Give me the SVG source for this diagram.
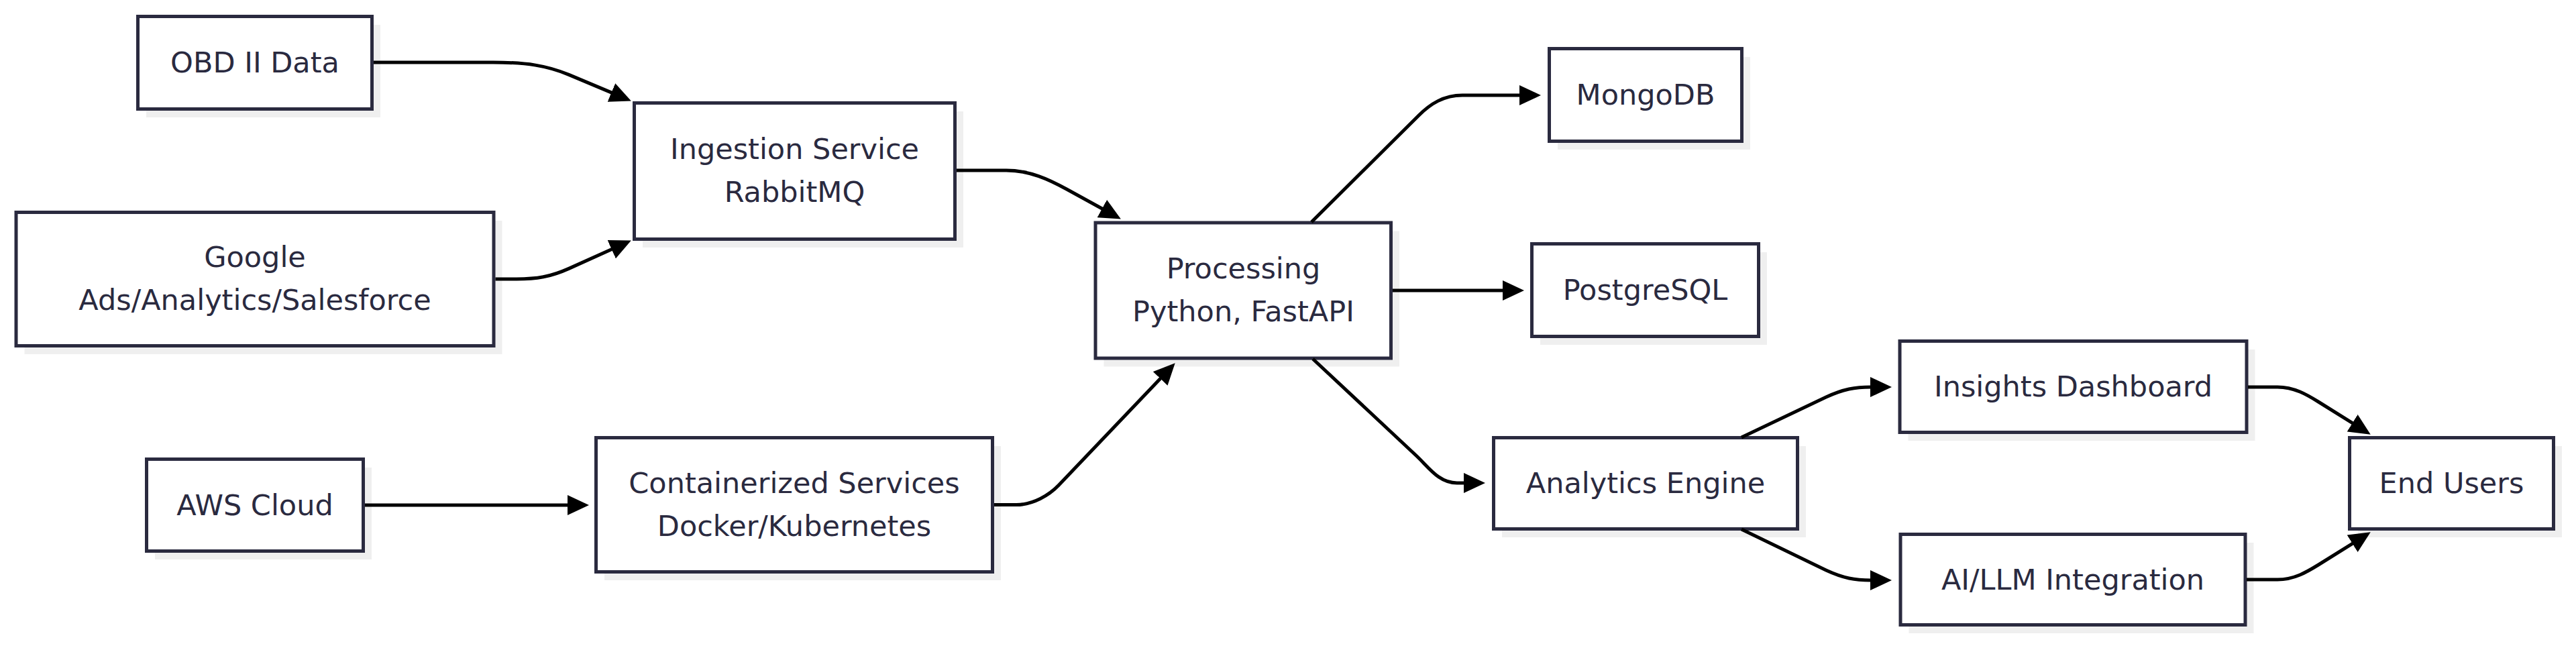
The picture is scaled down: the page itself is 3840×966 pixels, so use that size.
<svg xmlns="http://www.w3.org/2000/svg" width="3840" height="966" viewBox="0 0 3840 966">
<defs>
<style>
.box{fill:#ffffff;stroke:#2a2a3f;stroke-width:5}
.shadow{fill:#efefef;stroke:none}
.lbl{font-family:"DejaVu Sans","Noto Sans",sans-serif;font-size:43px;fill:#2a2a3f;text-anchor:middle}
.edge{fill:none;stroke:#000000;stroke-width:5}
</style>
<marker id="arrow" markerUnits="userSpaceOnUse" markerWidth="32" markerHeight="30" refX="1" refY="15" orient="auto">
<path d="M0,0 L32,15 L0,30 z" fill="#000000"/>
</marker>
</defs>
<rect width="3840" height="966" fill="#ffffff"/>

<g id="node-obd">
<rect class="shadow" x="218" y="37" width="349" height="138"/>
<rect class="box" x="205.5" y="24.5" width="349" height="138"/>
<text class="lbl" x="380" y="108">OBD II Data</text>
</g>

<g id="node-google">
<rect class="shadow" x="36.5" y="329" width="712" height="199"/>
<rect class="box" x="24" y="316.5" width="712" height="199"/>
<text class="lbl" x="380" y="398">Google</text>
<text class="lbl" x="380" y="462">Ads/Analytics/Salesforce</text>
</g>

<g id="node-ingestion">
<rect class="shadow" x="958" y="166" width="478" height="203"/>
<rect class="box" x="945.5" y="153.5" width="478" height="203"/>
<text class="lbl" x="1184.5" y="237">Ingestion Service</text>
<text class="lbl" x="1184.5" y="301">RabbitMQ</text>
</g>

<g id="node-processing">
<rect class="shadow" x="1645.5" y="344.5" width="440.5" height="202"/>
<rect class="box" x="1633" y="332" width="440.5" height="202"/>
<text class="lbl" x="1853.5" y="415">Processing</text>
<text class="lbl" x="1853.5" y="479">Python, FastAPI</text>
</g>

<g id="node-aws">
<rect class="shadow" x="231" y="697" width="323" height="137"/>
<rect class="box" x="218.5" y="684.5" width="323" height="137"/>
<text class="lbl" x="380" y="768">AWS Cloud</text>
</g>

<g id="node-containerized">
<rect class="shadow" x="901" y="665" width="591" height="200"/>
<rect class="box" x="888.5" y="652.5" width="591" height="200"/>
<text class="lbl" x="1184" y="735">Containerized Services</text>
<text class="lbl" x="1184" y="799">Docker/Kubernetes</text>
</g>

<g id="node-mongodb">
<rect class="shadow" x="2322" y="85" width="287" height="138"/>
<rect class="box" x="2309.5" y="72.5" width="287" height="138"/>
<text class="lbl" x="2453" y="156">MongoDB</text>
</g>

<g id="node-postgresql">
<rect class="shadow" x="2296" y="376" width="338" height="138"/>
<rect class="box" x="2283.5" y="363.5" width="338" height="138"/>
<text class="lbl" x="2452.5" y="447">PostgreSQL</text>
</g>

<g id="node-analytics">
<rect class="shadow" x="2239" y="665" width="453" height="136"/>
<rect class="box" x="2226.5" y="652.5" width="453" height="136"/>
<text class="lbl" x="2453" y="735">Analytics Engine</text>
</g>

<g id="node-insights">
<rect class="shadow" x="2844.5" y="521" width="517" height="136"/>
<rect class="box" x="2832" y="508.5" width="517" height="136"/>
<text class="lbl" x="3090.5" y="591">Insights Dashboard</text>
</g>

<g id="node-ai">
<rect class="shadow" x="2845.5" y="809" width="514" height="135"/>
<rect class="box" x="2833" y="796.5" width="514" height="135"/>
<text class="lbl" x="3090" y="878.5">AI/LLM Integration</text>
</g>

<g id="node-endusers">
<rect class="shadow" x="3515" y="665" width="304" height="136"/>
<rect class="box" x="3502.5" y="652.5" width="304" height="136"/>
<text class="lbl" x="3654.5" y="735">End Users</text>
</g>

<g id="connectors">
<path class="edge" marker-end="url(#arrow)" d="M557,93 L735,93 C785,93 815.7,97.9 848,111.4 L912.3,138.4"/>
<path class="edge" marker-end="url(#arrow)" d="M738.5,416 L770,416 C800,416 820.6,412.7 848,400.4 L912.6,371.3"/>
<path class="edge" marker-end="url(#arrow)" d="M1426,254 L1500,254 C1535,254 1563.7,267.5 1590,282 L1643.7,311.5"/>
<path class="edge" marker-end="url(#arrow)" d="M544,753 L847,753"/>
<path class="edge" marker-end="url(#arrow)" d="M1482,752.5 L1515,752.5 C1540,752.5 1564,738.2 1578,723.6 L1730.3,563.7"/>
<path class="edge" marker-end="url(#arrow)" d="M1955,331 L2115,172 C2132,155 2152,142 2180,142 L2266,142"/>
<path class="edge" marker-end="url(#arrow)" d="M2076,433 L2241,433"/>
<path class="edge" marker-end="url(#arrow)" d="M1957,535 L2112,680 C2130,697 2145,720 2172,720 L2183,720"/>
<path class="edge" marker-end="url(#arrow)" d="M2596,652 L2722,592 C2748,580 2765,577 2789,577"/>
<path class="edge" marker-end="url(#arrow)" d="M2596,789 L2722,850 C2748,862 2765,865 2789,865"/>
<path class="edge" marker-end="url(#arrow)" d="M3351,577 L3395,577 C3420,577 3439,588.5 3456,599 L3507.5,631.2"/>
<path class="edge" marker-end="url(#arrow)" d="M3349,864 L3395,864 C3420,864 3439,852.5 3456,842 L3507.5,809.8"/>
</g>
</svg>
